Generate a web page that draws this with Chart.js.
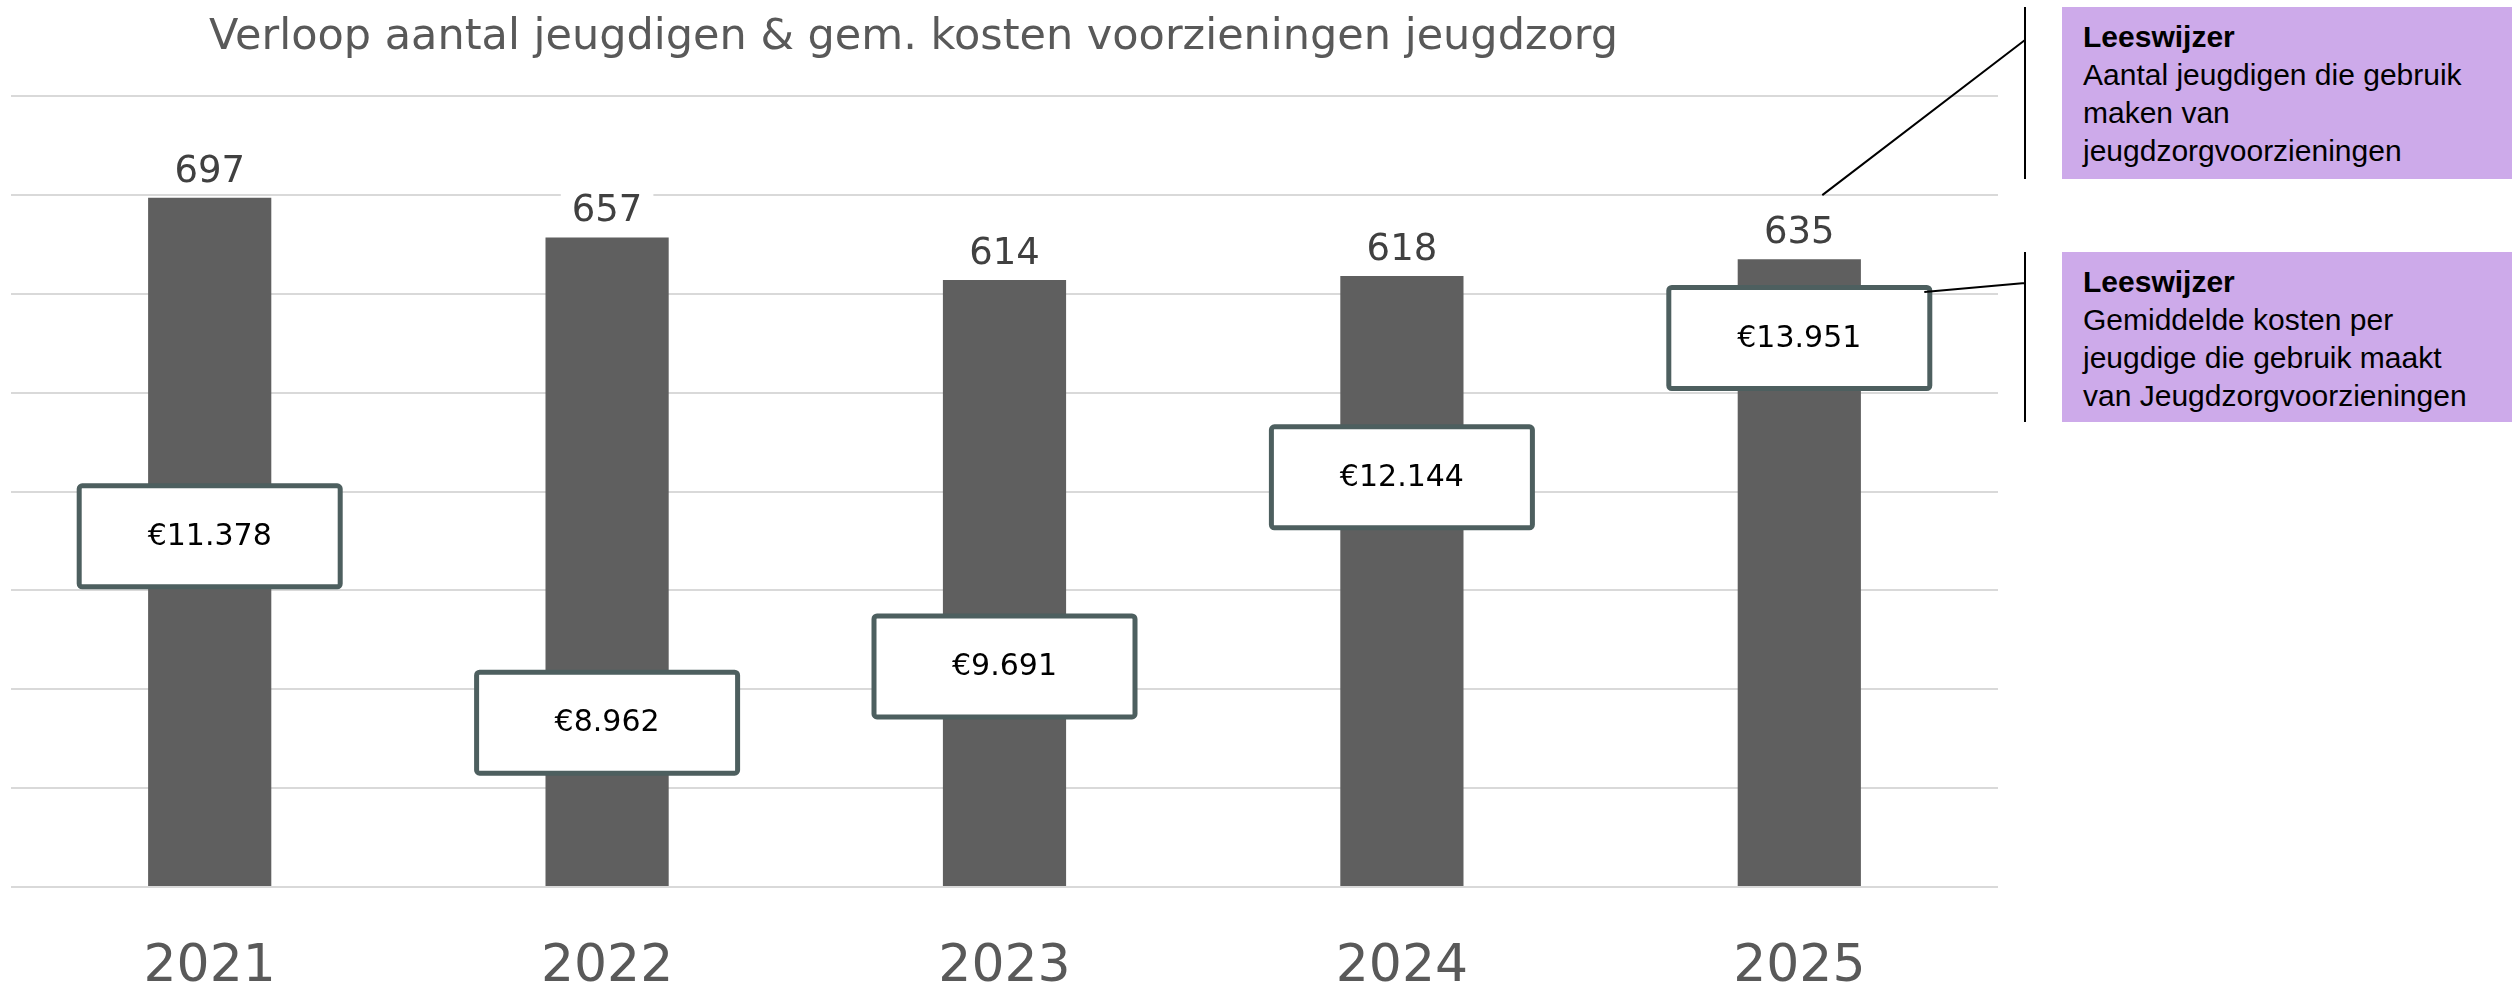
<!DOCTYPE html>
<html><head><meta charset="utf-8">
<script src="https://cdn.jsdelivr.net/npm/chart.js@4"></script>
<style>
html,body{margin:0;padding:0;background:#fff;}
#wrap{position:relative;width:2520px;height:986px;overflow:hidden;background:#fff;}
#c{position:absolute;left:0;top:0;}
.title{position:absolute;left:209px;top:9px;font-family:"DejaVu Sans";font-size:43px;color:#595959;white-space:nowrap;line-height:normal;}
.note{position:absolute;left:2062px;width:450px;background:#CDAAEA;font-family:"Liberation Sans",Arial,sans-serif;font-size:30px;line-height:38px;color:#000;box-sizing:border-box;padding:11px 0 0 21px;white-space:nowrap;}
</style></head>
<body>
<div id="wrap">
<canvas id="c" width="2520" height="986"></canvas>
<div class="title">Verloop aantal jeugdigen &amp; gem. kosten voorzieningen jeugdzorg</div>
<div class="note" style="top:7px;height:172px"><b>Leeswijzer</b><br>Aantal jeugdigen die gebruik<br>maken van<br>jeugdzorgvoorzieningen</div>
<div class="note" style="top:252px;height:170px"><b>Leeswijzer</b><br>Gemiddelde kosten per<br>jeugdige die gebruik maakt<br>van Jeugdzorgvoorzieningen</div>
</div>
<script>
const years = ['2021', '2022', '2023', '2024', '2025'];
const jeugdigen = [697, 657, 614, 618, 635];
const kostenPerJeugdige = [11378, 8962, 9691, 12144, 13951];
const countTicksMax = 800;
const countTickStep = 100;

function fmtEuro(n) {
  return '\u20AC' + String(n).replace(/\B(?=(\d{3})+(?!\d))/g, '.');
}

const labelPlugin = {
  id: 'customLabels',
  afterDatasetsDraw(chart) {
    const ctx = chart.ctx;
    ctx.save();
    const barMeta = chart.getDatasetMeta(0);
    ctx.font = '37px "DejaVu Sans"';
    ctx.textAlign = 'center';
    ctx.textBaseline = 'alphabetic';
    barMeta.data.forEach((bar, i) => {
      const txt = String(jeugdigen[i]);
      const w = ctx.measureText(txt).width;
      const base = bar.y - 16;
      ctx.fillStyle = '#ffffff';
      ctx.fillRect(bar.x - w / 2 - 11, base - 33, w + 22, 40);
      ctx.fillStyle = '#404040';
      ctx.fillText(txt, bar.x, base);
    });
    const lineMeta = chart.getDatasetMeta(1);
    const W = 266, H = 106;
    let lastBox = null;
    lineMeta.data.forEach((pt, i) => {
      const x0 = pt.x - W / 2, y0 = pt.y - H / 2;
      ctx.beginPath();
      ctx.roundRect(x0 + 2.5, y0 + 2.5, W - 5, H - 5, 3);
      ctx.fillStyle = '#ffffff';
      ctx.fill();
      ctx.lineWidth = 5;
      ctx.strokeStyle = '#4d5f5f';
      ctx.stroke();
      ctx.fillStyle = '#000000';
      ctx.font = '30px "DejaVu Sans"';
      ctx.textAlign = 'center';
      ctx.textBaseline = 'middle';
      ctx.fillText(fmtEuro(kostenPerJeugdige[i]), pt.x, pt.y + 1);
      lastBox = {x0, y0};
    });
    const lastBar = barMeta.data[barMeta.data.length - 1];
    ctx.strokeStyle = '#000000';
    ctx.lineWidth = 2;
    ctx.beginPath();
    ctx.moveTo(2025, 7); ctx.lineTo(2025, 179);
    ctx.moveTo(2025, 252); ctx.lineTo(2025, 422);
    ctx.moveTo(lastBar.x + 23, lastBar.y - 64); ctx.lineTo(2025, 40);
    ctx.moveTo(lastBox.x0 + W - 8, lastBox.y0 + 7); ctx.lineTo(2025, 283);
    ctx.stroke();
    ctx.restore();
  }
};

Chart.defaults.font.family = '"DejaVu Sans"';

new Chart(document.getElementById('c'), {
  type: 'bar',
  data: {
    labels: years,
    datasets: [
      {
        type: 'bar',
        label: 'Aantal jeugdigen',
        data: jeugdigen,
        backgroundColor: '#5f5f5f',
        barPercentage: 0.31,
        categoryPercentage: 1,
        yAxisID: 'y'
      },
      {
        type: 'line',
        label: 'Gemiddelde kosten',
        data: kostenPerJeugdige,
        showLine: false,
        pointRadius: 0,
        yAxisID: 'y2'
      }
    ]
  },
  options: {
    responsive: false,
    animation: false,
    events: [],
    layout: { padding: { left: 11, right: 522, top: 96, bottom: 0 } },
    plugins: { legend: { display: false }, tooltip: { enabled: false }, title: { display: false } },
    scales: {
      x: {
        grid: { display: false },
        border: { display: false },
        ticks: { font: { size: 52 }, color: '#595959', padding: 41 },
        afterFit: s => { s.height = 99; }
      },
      y: {
        min: 0, max: countTicksMax,
        ticks: { stepSize: countTickStep, display: false },
        grid: { color: '#d9d9d9', lineWidth: 2, drawTicks: false },
        border: { display: false },
        afterFit: s => { s.width = 0; }
      },
      y2: {
        display: false,
        position: 'right',
        min: 6830, max: 17090
      }
    }
  },
  plugins: [labelPlugin]
});
</script>
</body></html>
